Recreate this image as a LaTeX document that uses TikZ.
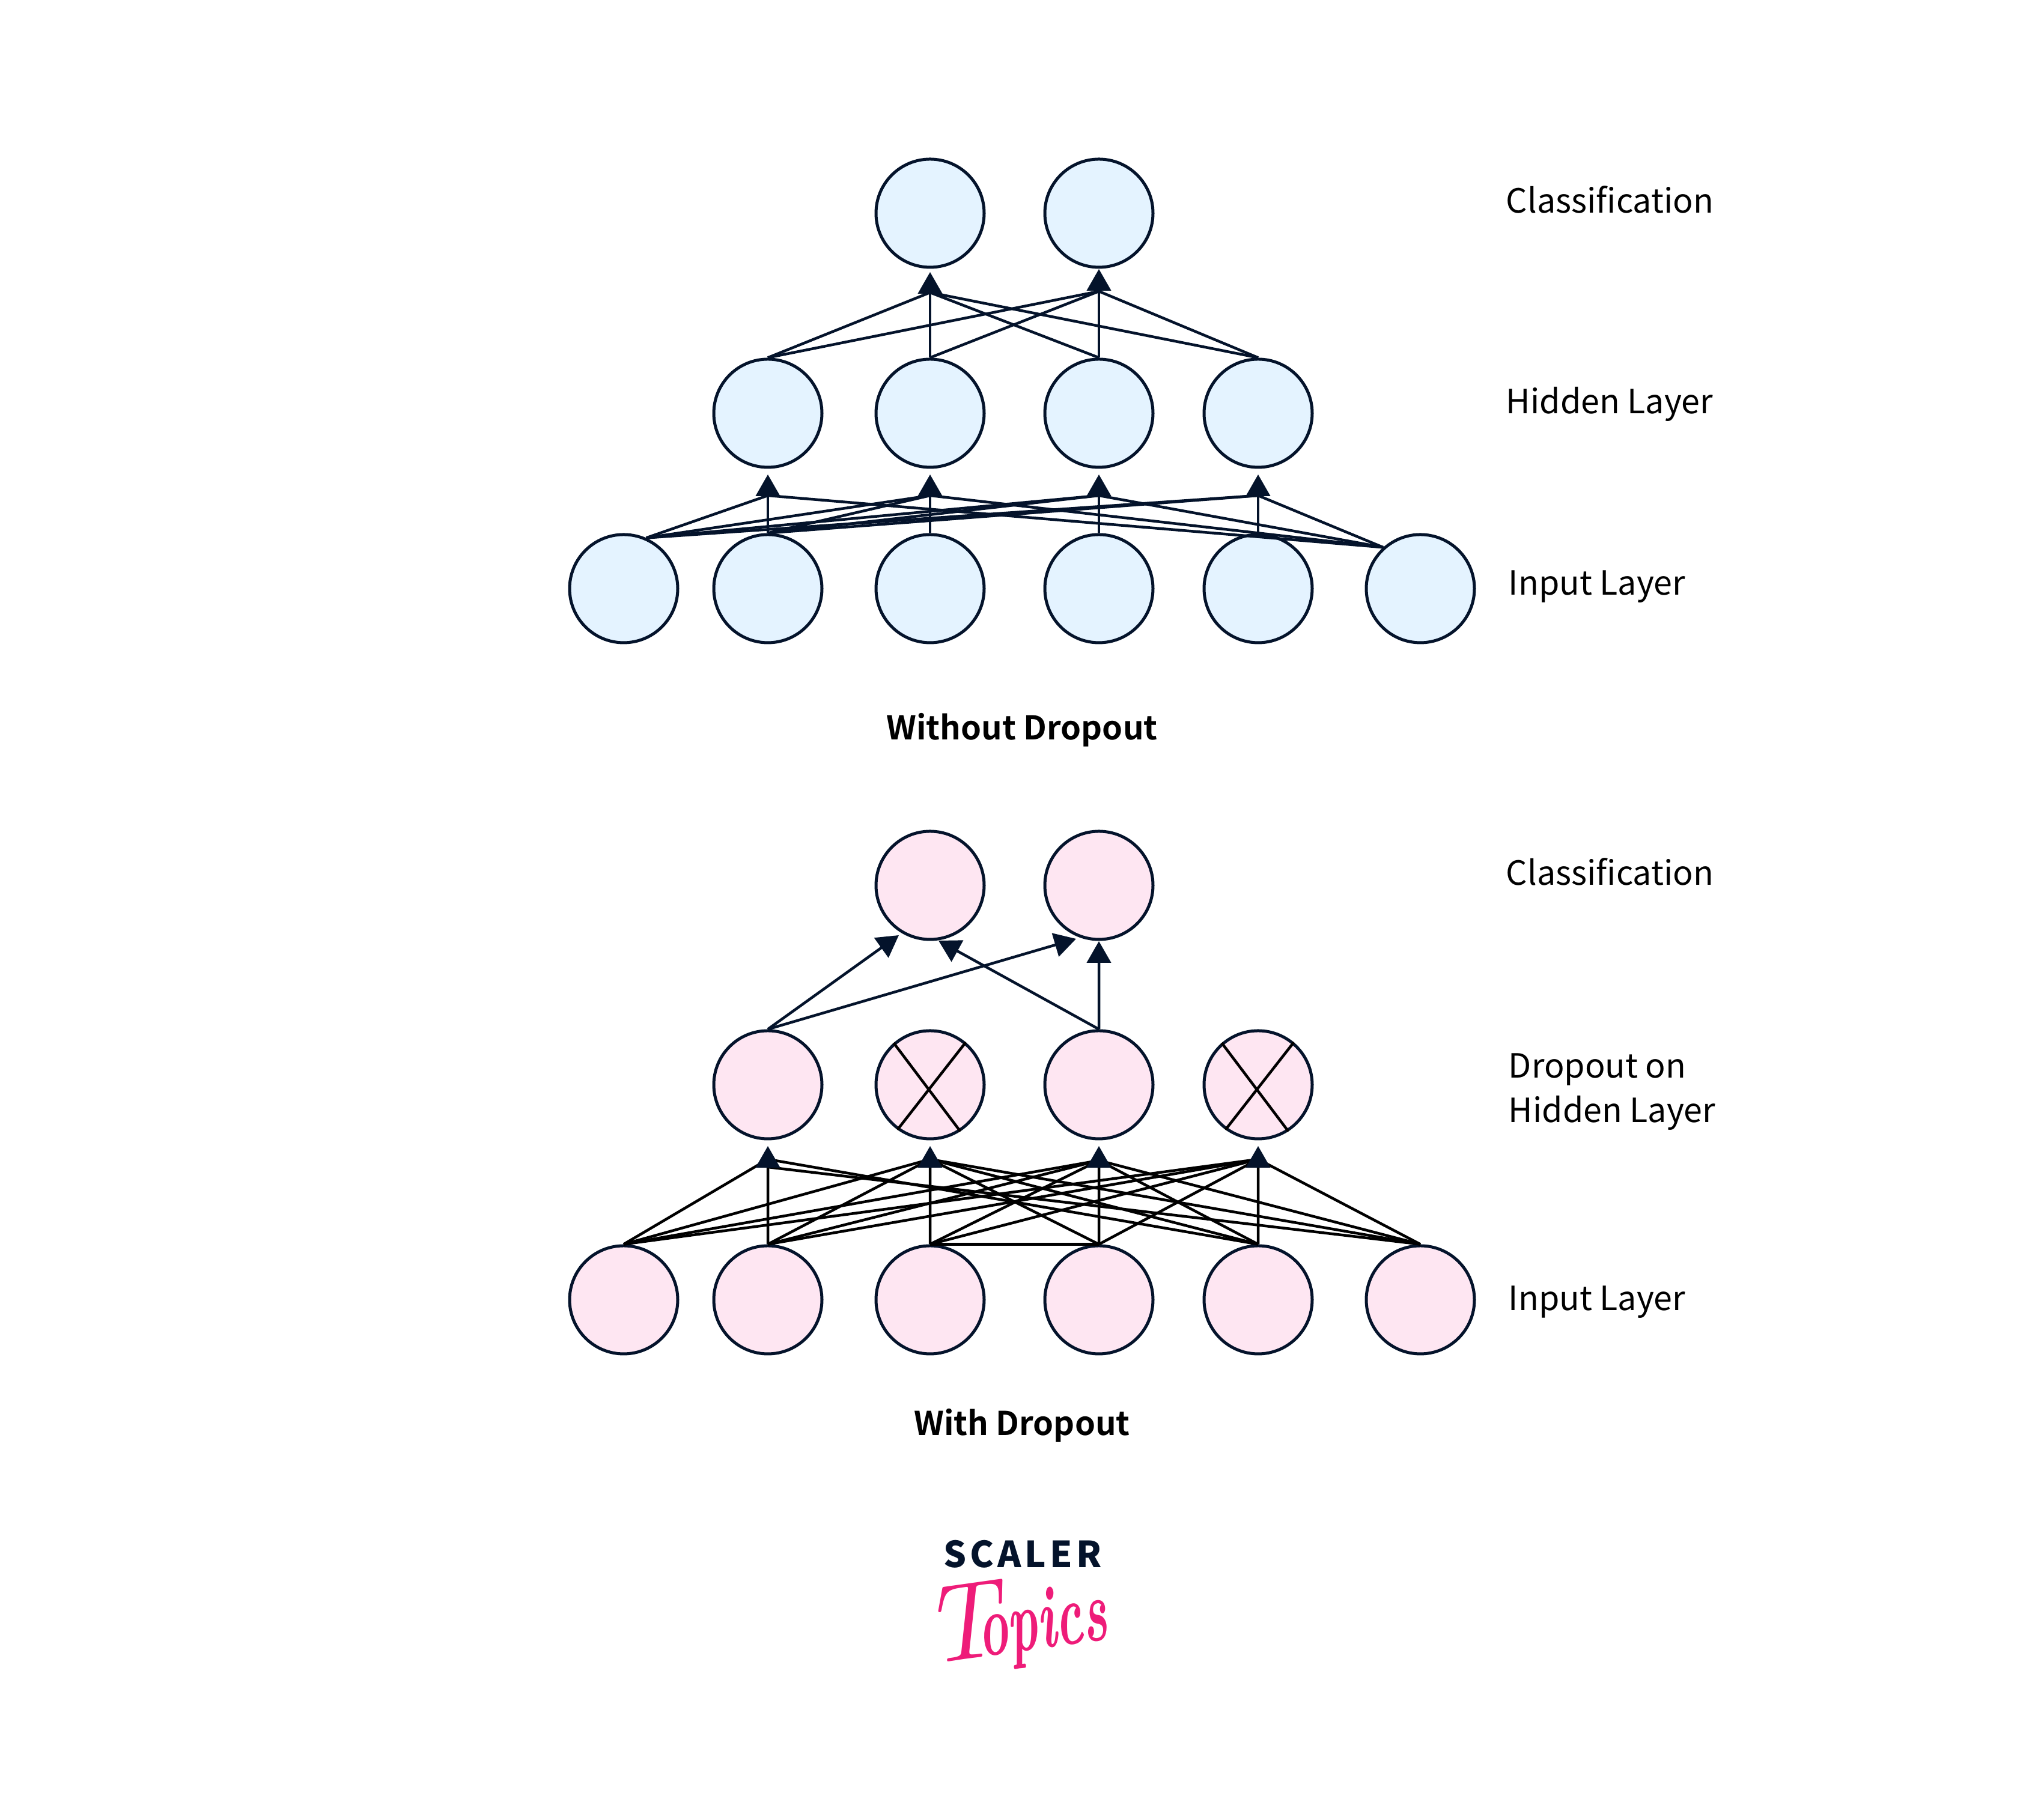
\documentclass[tikz,border=0pt]{standalone}
\usepackage{fontspec}
\newfontfamily\labelfont[BoldFont={Noto Sans CJK SC Bold}]{Noto Sans CJK SC}
\newfontfamily\logofont{Noto Sans CJK SC Black}
\usetikzlibrary{positioning,arrows.meta}
\definecolor{navy}{HTML}{04132B}
\definecolor{iceblue}{HTML}{E4F3FF}
\definecolor{palepink}{HTML}{FEE6F2}
\definecolor{logopink}{HTML}{EE1C79}
\tikzset{
    neuron/.style={draw=navy, circle, line width=.05cm, minimum size=1.8cm, inner sep=0pt},
    blueneuron/.style={neuron, fill=iceblue},
    pinkneuron/.style={neuron, fill=palepink},
    layerlabel/.style={font=\labelfont\fontsize{15.8}{21}\selectfont, text=black, align=left, anchor=base west},
    titlelabel/.style={font=\labelfont\bfseries\fontsize{15.5}{21}\selectfont, text=black, anchor=base}
}

\begin{document}
\begin{tikzpicture}[>={Triangle[length=.36cm,width=.4cm,color=navy]}, line width=.045cm]
    \useasboundingbox (0,0) rectangle (34.02,30);

    % without dropout
    \node [blueneuron] (i1) at (10.38,20.20) {};
    \node [blueneuron, right of=i1, node distance=2.4cm] (i2) {};
    \node [blueneuron, right of=i2, node distance=2.7cm] (i3) {};
    \node [blueneuron, right of=i3, node distance=2.81cm] (i4) {};
    \node [blueneuron, right of=i4, node distance=2.65cm] (i5) {};
    \node [blueneuron, right of=i5, node distance=2.7cm] (i6) {};
    \node [blueneuron, above of=i2, node distance=2.92cm] (h1) {};
    \node [blueneuron, above of=i3, node distance=2.92cm] (h2) {};
    \node [blueneuron, above of=i4, node distance=2.92cm] (h3) {};
    \node [blueneuron, above of=i5, node distance=2.92cm] (h4) {};
    \node [blueneuron, above of=h2, node distance=3.33cm] (c1) {};
    \node [blueneuron, above of=h3, node distance=3.33cm] (c2) {};

    \coordinate [above of=h2, node distance=2.01cm] (cb1);
    \coordinate [above of=h3, node distance=2.03cm] (cb2);
    \coordinate [above of=cb1, node distance=.34cm] (ct1);
    \coordinate [above of=cb2, node distance=.37cm] (ct2);
    \coordinate [above of=i2, node distance=1.55cm] (hb1);
    \coordinate [above of=i3, node distance=1.55cm] (hb2);
    \coordinate [above of=i4, node distance=1.55cm] (hb3);
    \coordinate [above of=i5, node distance=1.55cm] (hb4);
    \coordinate [above of=hb1, node distance=.35cm] (ht1);
    \coordinate [above of=hb2, node distance=.35cm] (ht2);
    \coordinate [above of=hb3, node distance=.35cm] (ht3);
    \coordinate [above of=hb4, node distance=.35cm] (ht4);

    \path[every edge/.append style={draw=navy}]
        (i1.66) edge (hb1) (i1.66) edge (hb2) (i1.66) edge (hb3) (i1.66) edge (hb4)
        (i2.north) edge (hb2) (i2.north) edge (hb3) (i2.north) edge (hb4)
        (i6.132) edge (hb1) (i6.132) edge (hb2) (i6.132) edge (hb3) (i6.132) edge (hb4)
        (h1.north) edge (cb1) (h1.north) edge (cb2)
        (h2.north) edge (cb2)
        (h3.north) edge (cb1)
        (h4.north) edge (cb1) (h4.north) edge (cb2)
        (i2.north) edge[->] (ht1) (i3.north) edge[->] (ht2)
        (i4.north) edge[->] (ht3) (i5.north) edge[->] (ht4)
        (h2.north) edge[->] (ct1) (h3.north) edge[->] (ct2);

    \node [layerlabel] (lc1) at (24.93,26.45) {Classification};
    \node [layerlabel] (lh1) at (24.93,23.11) {Hidden Layer};
    \node [layerlabel] (li1) at (24.97,20.09) {Input Layer};
    \node [titlelabel] (t1) at (17.01,17.68) {Without Dropout};

    % with dropout
    \node [pinkneuron] (pi1) at (10.38,8.36) {};
    \node [pinkneuron, right of=pi1, node distance=2.4cm] (pi2) {};
    \node [pinkneuron, right of=pi2, node distance=2.7cm] (pi3) {};
    \node [pinkneuron, right of=pi3, node distance=2.81cm] (pi4) {};
    \node [pinkneuron, right of=pi4, node distance=2.65cm] (pi5) {};
    \node [pinkneuron, right of=pi5, node distance=2.7cm] (pi6) {};
    \node [pinkneuron, above of=pi2, node distance=3.58cm] (ph1) {};
    \node [pinkneuron, above of=pi3, node distance=3.58cm] (ph2) {};
    \node [pinkneuron, above of=pi4, node distance=3.58cm] (ph3) {};
    \node [pinkneuron, above of=pi5, node distance=3.58cm] (ph4) {};
    \node [pinkneuron, above of=ph2, node distance=3.32cm] (pc1) {};
    \node [pinkneuron, above of=ph3, node distance=3.32cm] (pc2) {};

    % crossed out neurons
    \draw (ph2.131) -- (ph2.303) (ph2.50) -- (ph2.234);
    \draw (ph4.131) -- (ph4.303) (ph4.50) -- (ph4.234);

    \coordinate (pb1) at (12.78,10.70);
    \coordinate (pb2) at (15.48,10.70);
    \coordinate (pb3) at (18.29,10.68);
    \coordinate (pb4) at (20.94,10.70);
    \coordinate (pb5) at (12.78,10.57);
    \coordinate (pt1) at (12.78,10.92);
    \coordinate (pt2) at (15.48,10.92);
    \coordinate (pt3) at (18.29,10.92);
    \coordinate (pt4) at (20.94,10.92);
    \coordinate (pa1) at (14.96,14.43);
    \coordinate (pa2) at (17.91,14.37);
    \coordinate (pa3) at (15.62,14.34);
    \coordinate (pa4) at (18.29,14.33);

    \path[every edge/.append style={draw=black}]
        (pi1.north) edge (pb1) (pi1.north) edge (pb2) (pi1.north) edge (pb3) (pi1.north) edge (pb4)
        (pi2.north) edge (pb2) (pi2.north) edge (pb3) (pi2.north) edge (pb4)
        (pi3.north) edge (pb3) (pi3.north) edge (pb4) (pi3.north) edge (pi4.north)
        (pi4.north) edge (pb2) (pi4.north) edge (pb4)
        (pi5.north) edge (pb1) (pi5.north) edge (pb2) (pi5.north) edge (pb3)
        (pi6.north) edge (pb5) (pi6.north) edge (pb2) (pi6.north) edge (pb3) (pi6.north) edge (pb4)
        (pi2.north) edge[->] (pt1) (pi3.north) edge[->] (pt2)
        (pi4.north) edge[->] (pt3) (pi5.north) edge[->] (pt4);
    \path[every edge/.append style={draw=navy}]
        (ph1.north) edge[->] (pa1) (ph1.north) edge[->] (pa2)
        (ph3.north) edge[->] (pa3) (ph3.north) edge[->] (pa4);

    \node [layerlabel] (lc2) at (24.93,15.26) {Classification};
    \node [layerlabel, anchor=west] (lh2) at (24.97,11.82) {Dropout on\\Hidden Layer};
    \node [layerlabel] (li2) at (24.97,8.18) {Input Layer};
    \node [titlelabel] (t2) at (17.01,6.10) {With Dropout};

    % logo
    \node [font=\logofont\fontsize{17}{21}\selectfont, text=navy, anchor=base] (scaler) at (17.02,3.90) {S\kern.1em C\kern.1em A\kern.1em L\kern.1em E\kern.1em R};
    \node [font=\itshape, text=logopink, rotate=8, anchor=base] (topics) at (16.95,2.50) {\fontsize{52}{52}\selectfont T\kern-.2em\bfseries\scalebox{1}[1.75]{\fontsize{24}{24}\selectfont opics}};
\end{tikzpicture}
\end{document}
